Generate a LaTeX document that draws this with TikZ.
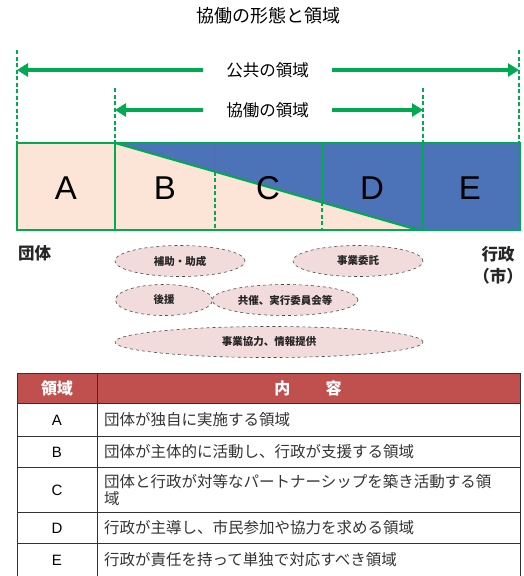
\documentclass[tikz,border=0pt]{standalone}
\usepackage{fontspec}
\setmainfont{Noto Sans CJK JP}
\newfontfamily\latinfont{Liberation Sans}
\usetikzlibrary{shapes.geometric,arrows.meta}
\definecolor{kgreen}{RGB}{0,170,80}
\definecolor{kblue}{RGB}{76,114,184}
\definecolor{kpeach}{RGB}{252,229,214}
\definecolor{kpink}{RGB}{242,220,219}
\definecolor{kred}{RGB}{192,80,77}
\begin{document}
\begin{tikzpicture}[x=1pt,y=-1pt]
\tikzstyle{every node}=[inner sep=0pt]
\tikzstyle{guide}=[color=kgreen,dash pattern=on 4pt off 2.5pt,line width=1.3pt]
\tikzstyle{span}=[draw=kgreen,line width=3.8pt,-{Triangle[length=11pt,width=13pt,fill=kgreen]}]
\tikzstyle{spanlabel}=[font=\fontsize{16.5}{17}\selectfont]
\tikzstyle{letter}=[font=\latinfont\fontsize{33}{33}\selectfont]
\tikzstyle{form}=[ellipse,draw=black!70,dashed,fill=kpink,line width=0.6pt,
  font=\bfseries\fontsize{10.5}{11}\selectfont,text=black!85,minimum height=31pt]
\tikzstyle{rowkey}=[font=\latinfont\fontsize{15}{15}\selectfont]
\tikzstyle{rowtext}=[anchor=west,align=left,font=\fontsize{15.5}{17}\selectfont,text=black!80]
\useasboundingbox (0,0) rectangle (524,576);
% title
\node (title) at (268,16) {\fontsize{18}{18}\selectfont 協働の形態と領域};
% spans
\draw[guide] (17,50) -- (17,143);
\draw[guide] (519,50) -- (519,143);
\draw[guide] (115,88) -- (115,143);
\draw[guide] (423,88) -- (423,143);
\coordinate (publ) at (17,70);
\coordinate (pubr) at (519,70);
\coordinate (cool) at (115,110);
\coordinate (coor) at (423,110);
\node[spanlabel,minimum width=129pt] (public) at (267.5,70) {公共の領域};
\node[spanlabel,minimum width=129pt] (coop) at (267.5,110) {協働の領域};
\draw[span] (public) -- (publ);
\draw[span] (public) -- (pubr);
\draw[span] (coop) -- (cool);
\draw[span] (coop) -- (coor);
% band
\fill[kpeach] (17,143) rectangle (115,230);
\fill[kpeach] (115,143) -- (418,230) -- (115,230) -- cycle;
\fill[kblue] (115,143) -- (520,143) -- (520,230) -- (418,230) -- cycle;
\draw[kgreen,line width=1pt] (215,143) -- (215,171.5);
\draw[guide] (215,171.5) -- (215,230);
\draw[kgreen,line width=1pt] (322,143) -- (322,201.5);
\draw[guide] (322,201.5) -- (322,230);
\draw[kgreen,line width=1.5pt] (115,143) -- (115,230);
\draw[kgreen,line width=1.5pt] (423,143) -- (423,230);
\draw[kgreen,line width=2pt] (115,143) -- (418,230);
\draw[kgreen,line width=1.5pt] (17,143) rectangle (520,230);
\node[letter] (a) at (66,188) {A};
\node[letter] (b) at (165,188) {B};
\node[letter] (c) at (268,188) {C};
\node[letter] (d) at (372,188) {D};
\node[letter] (e) at (470,188) {E};
% ends
\node[anchor=west,font=\bfseries\fontsize{16.5}{17}\selectfont,text=black!85] (group) at (18,253) {団体};
\node[anchor=east,align=center,font=\bfseries\fontsize{16.5}{22}\selectfont,text=black!85] (gov) at (523,265) {行政\\（市）};
% forms of cooperation
\node[form,minimum width=130pt] (subsidy) at (180,261) {補助・助成};
\node[form,minimum width=130pt] (contract) at (358,261) {事業委託};
\node[form,minimum width=97pt] (support) at (164,300) {後援};
\node[form,minimum width=146pt] (cohost) at (285,300) {共催、実行委員会等};
\node[form,minimum width=308pt] (info) at (269,342) {事業協力、情報提供};
% table
\fill[kred] (17,373) rectangle (520,403);
\node[font=\bfseries\fontsize{16}{16}\selectfont,text=white] (hkey) at (57,388) {領域};
\node[font=\bfseries\fontsize{16}{16}\selectfont,text=white] (hbody) at (308,388) {内\hspace{2.2em}容};
\draw[black!80,line width=0.8pt] (17,373) rectangle (520,576);
\draw[black!80,line width=0.8pt] (97,373) -- (97,576);
\foreach \y in {403,436,467,512,543}
  \draw[black!80,line width=0.8pt] (17,\y) -- (520,\y);
\node[rowkey] (ka) at (57,420) {A};
\node[rowkey] (kb) at (57,452) {B};
\node[rowkey] (kc) at (57,490) {C};
\node[rowkey] (kd) at (57,528) {D};
\node[rowkey] (ke) at (57,560) {E};
\node[rowtext] (ta) at (104,420) {団体が独自に実施する領域};
\node[rowtext] (tb) at (104,452) {団体が主体的に活動し、行政が支援する領域};
\node[rowtext] (tc) at (104,490) {団体と行政が対等なパートナーシップを築き活動する領\\域};
\node[rowtext] (td) at (104,528) {行政が主導し、市民参加や協力を求める領域};
\node[rowtext] (te) at (104,560) {行政が責任を持って単独で対応すべき領域};
\end{tikzpicture}
\end{document}
